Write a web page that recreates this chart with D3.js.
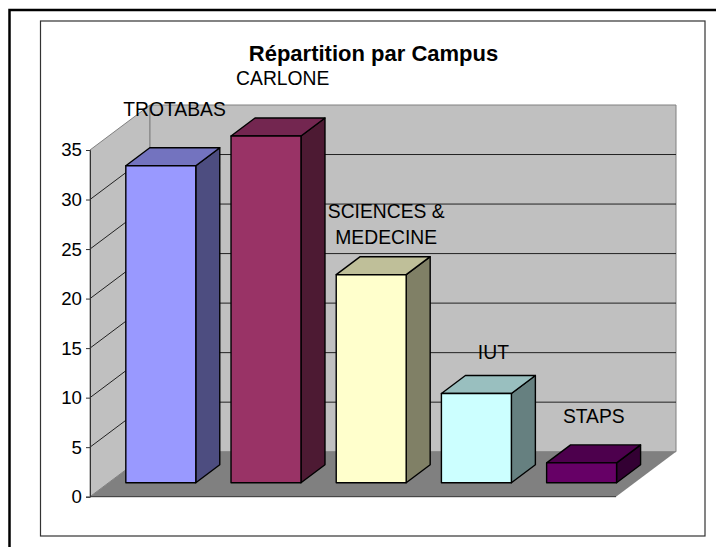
<!DOCTYPE html>
<html>
<head>
<meta charset="utf-8">
<style>
html,body{margin:0;padding:0;background:#fff;}
svg{display:block;}
text{font-family:"Liberation Sans",Arial,sans-serif;fill:#000;}
</style>
<script src="https://cdn.jsdelivr.net/npm/d3@7/dist/d3.min.js"></script>
</head>
<body>
<svg id="chart" width="717" height="547"></svg>
<script>
const titleText = "Répartition par Campus";
const categories = ["TROTABAS", "CARLONE", "SCIENCES & MEDECINE", "IUT", "STAPS"];
const values = [32, 35, 21, 9, 2];
const tickValues = [0, 5, 10, 15, 20, 25, 30, 35];
const labelLines = [["TROTABAS"], ["CARLONE"], ["SCIENCES &", "MEDECINE"], ["IUT"], ["STAPS"]];
const frontColors = ["#9999ff", "#993366", "#ffffcc", "#ccffff", "#660066"];
const topColors = ["#7373bf", "#732650", "#bfbf99", "#99bfbf", "#4d004d"];
const sideColors = ["#4d4d80", "#4d1a33", "#808066", "#668080", "#330033"];

// layout
const floorLeft = 90, floorRight = 616, y0 = 496.7, y35 = 150;
const wallDx = 60, wallDy = 45;
const barDx = 24, barDy = 18, barInsetX = 18.2, barInsetY = 14;
const labelDx = [13.7, 16.7, 15, 17, 12.2];
const labelDy = [-50, -51.2, -57, -35, -40];
const lineGap = 26;

const x = d3.scaleBand().domain(categories).range([floorLeft, floorRight])
  .paddingInner(0.335).paddingOuter(0.1675);
const y = d3.scaleLinear().domain([0, 35]).range([y0, y35]);

const svg = d3.select("#chart");
const path = pts => "M" + pts.map(p => p.join(",")).join("L") + "Z";

// frames
svg.append("path").attr("d", "M9.5,547V10H716").attr("fill", "none").attr("stroke", "#000").attr("stroke-width", 2.5);
svg.append("rect").attr("x", 40.5).attr("y", 21).attr("width", 664.5).attr("height", 515)
  .attr("fill", "#fff").attr("stroke", "#333").attr("stroke-width", 1.2);

// walls and floor
const backLeft = floorLeft + wallDx, backRight = floorRight + wallDx;
svg.append("path").attr("d", path([[floorLeft, y(35)], [backLeft, y(35) - wallDy], [backLeft, y(0) - wallDy], [floorLeft, y(0)]]))
  .attr("fill", "#c0c0c0").attr("stroke", "#808080");
svg.append("path").attr("d", path([[backLeft, y(35) - wallDy], [backRight, y(35) - wallDy], [backRight, y(0) - wallDy], [backLeft, y(0) - wallDy]]))
  .attr("fill", "#c0c0c0").attr("stroke", "#808080");
svg.append("path").attr("d", path([[floorLeft, y(0)], [backLeft, y(0) - wallDy], [backRight, y(0) - wallDy], [floorRight, y(0)]]))
  .attr("fill", "#808080");
svg.append("line").attr("x1", floorLeft).attr("x2", floorRight).attr("y1", y(0)).attr("y2", y(0))
  .attr("stroke", "#333").attr("stroke-width", 1);

// gridlines
const grid = tickValues.filter(d => d > 0 && d < 35);
svg.append("g").selectAll("path").data(grid).join("path")
  .attr("d", d => `M${floorLeft},${y(d)}L${backLeft},${y(d) - wallDy}L${backRight},${y(d) - wallDy}`)
  .attr("fill", "none").attr("stroke", "#222").attr("stroke-width", 1);

// axis
const axis = svg.append("g").attr("transform", `translate(${floorLeft},0)`)
  .call(d3.axisLeft(y).tickValues(tickValues).tickSize(4).tickPadding(4));
axis.selectAll("path,line").attr("stroke", "#333").attr("stroke-width", 1);
axis.selectAll("text").attr("font-size", 18.67).attr("font-family", "'Liberation Sans',Arial,sans-serif").attr("fill", "#000");

// bars
const bars = svg.append("g").attr("stroke", "#000").attr("stroke-width", 1.4).attr("stroke-linejoin", "round")
  .selectAll("g").data(categories).join("g");
const base = y0 - barInsetY;
const left = c => x(c) + barInsetX;
const right = c => left(c) + x.bandwidth();
const topY = i => base - (y0 - y(values[i]));
bars.append("path").attr("fill", (c, i) => sideColors[i])
  .attr("d", (c, i) => path([[right(c), base], [right(c) + barDx, base - barDy], [right(c) + barDx, topY(i) - barDy], [right(c), topY(i)]]));
bars.append("path").attr("fill", (c, i) => topColors[i])
  .attr("d", (c, i) => path([[left(c), topY(i)], [left(c) + barDx, topY(i) - barDy], [right(c) + barDx, topY(i) - barDy], [right(c), topY(i)]]));
bars.append("path").attr("fill", (c, i) => frontColors[i])
  .attr("d", (c, i) => path([[left(c), base], [left(c), topY(i)], [right(c), topY(i)], [right(c), base]]));

// data labels
const labels = svg.append("g").attr("font-size", 19.3).attr("text-anchor", "middle")
  .selectAll("text").data(categories).join("text")
  .attr("transform", (c, i) => `translate(${left(c) + x.bandwidth() / 2 + labelDx[i]},${topY(i) + labelDy[i]})`);
labels.selectAll("tspan").data((c, i) => labelLines[i]).join("tspan")
  .attr("x", 0).attr("y", (d, j) => j * lineGap).text(d => d);

// title
svg.append("text").attr("x", 373.5).attr("y", 60.5).attr("text-anchor", "middle")
  .attr("font-size", 22).attr("font-weight", "bold").text(titleText);
</script>
</body>
</html>
